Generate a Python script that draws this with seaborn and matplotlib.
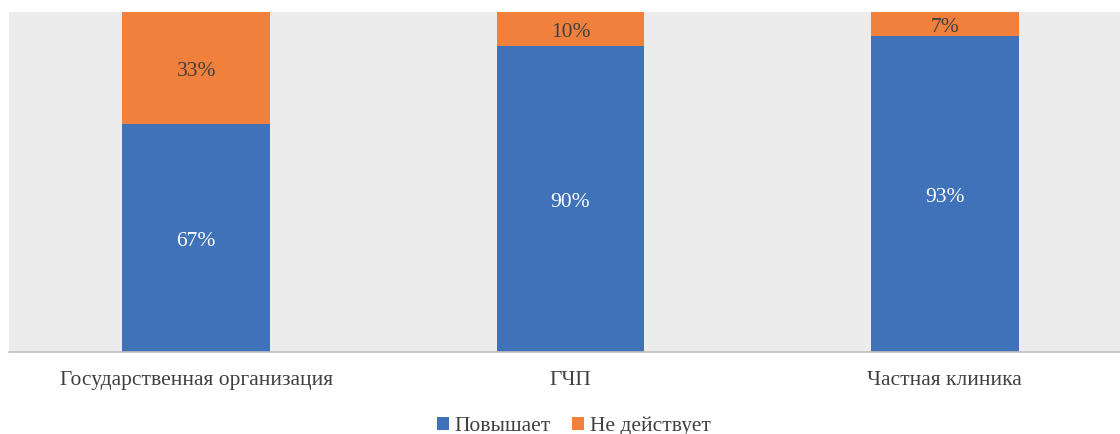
import matplotlib
matplotlib.use("Agg")
import matplotlib.pyplot as plt
import seaborn as sns
import pandas as pd
from matplotlib.patches import Patch

categories = ["Государственная организация", "ГЧП", "Частная клиника"]
raises = [67, 90, 93]
no_effect = [33, 10, 7]
series_names = ["Повышает", "Не действует"]

blue = "#3f72b8"
orange = "#f0803c"
fs = 15.5

sns.set_theme(style="white")
plt.rcParams["font.family"] = ["Liberation Serif", "DejaVu Serif"]

df = pd.DataFrame({"category": categories, "raises": raises, "no_effect": no_effect})
df["total"] = df["raises"] + df["no_effect"]

fig = plt.figure(figsize=(11.2, 4.34), dpi=100)
ax = fig.add_axes([9 / 1120, 1 - 352 / 434, 1123 / 1120, 340 / 434])
ax.set_facecolor("#ececec")

# stacked: full-height orange bars, blue bars drawn over the lower part
sns.barplot(data=df, x="category", y="total", color=orange, saturation=1,
            width=0.395, ax=ax, order=categories, linewidth=0)
sns.barplot(data=df, x="category", y="raises", color=blue, saturation=1,
            width=0.395, ax=ax, order=categories, linewidth=0)

# value labels centred in each segment (nudged for the glyph descent)
nudge = 1.1
for i, (r, n) in enumerate(zip(raises, no_effect)):
    ax.text(i, r / 2 - nudge, f"{r}%", ha="center", va="center", color="white", fontsize=fs)
    ax.text(i, r + n / 2 - nudge, f"{n}%", ha="center", va="center", color="#404040", fontsize=fs)

ax.set_xlim(-0.5, 2.5)
ax.set_ylim(0, 100)
ax.set_xlabel("")
ax.set_ylabel("")
ax.set_yticks([])
ax.tick_params(axis="x", length=0, pad=14, labelsize=fs, labelcolor="#404040")
for s in ["top", "right", "left"]:
    ax.spines[s].set_visible(False)
ax.spines["bottom"].set_color("#bfbfbf")
ax.spines["bottom"].set_linewidth(1.2)

handles = [Patch(facecolor=blue, edgecolor="none"), Patch(facecolor=orange, edgecolor="none")]
fig.legend(handles, series_names, loc="center", bbox_to_anchor=(574 / 1120, 1 - 426 / 434),
           ncol=2, frameon=False, fontsize=fs, handlelength=0.55, handleheight=0.55,
           handletextpad=0.25, columnspacing=1.0, labelcolor="#404040")

fig.savefig("out.png", dpi=100)
